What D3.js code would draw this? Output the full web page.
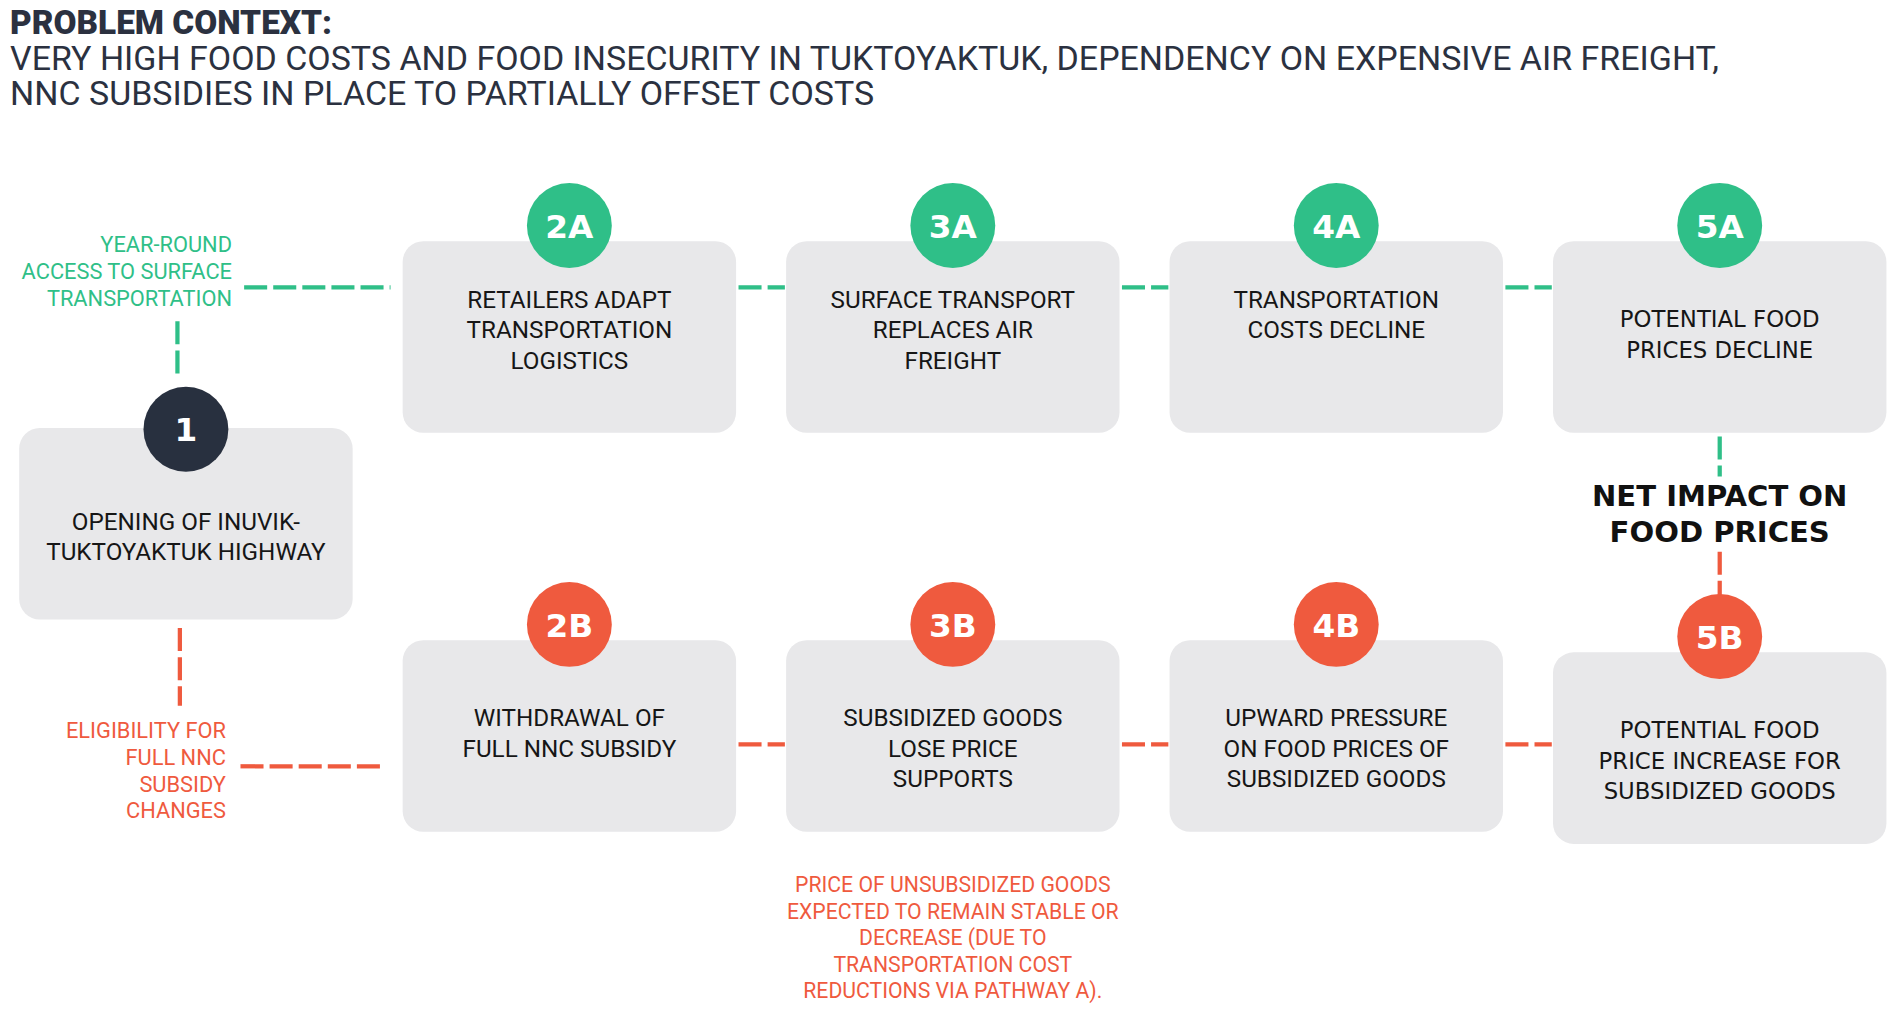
<!DOCTYPE html>
<html lang="en">
<head>
<meta charset="UTF-8">
<script src="https://d3js.org/d3.v7.min.js"></script>
<style>
body { margin: 0; background: #fff; }
.title { font-family: Roboto, sans-serif; fill: #2b3140; font-size: 28px; }
.title.head { font-weight: 900; font-size: 27.5px; }
.box { fill: #e8e8ea; }
.node-text { font-family: Roboto, sans-serif; font-size: 20px; fill: #161616; }
.node-text.wide { font-family: 'DejaVu Sans', sans-serif; font-size: 18.8px; }
.badge-text { font-family: 'DejaVu Sans', sans-serif; font-weight: bold; font-size: 27px; fill: #fff; }
.link { fill: none; stroke-width: 3.5; stroke-dasharray: 19 5; }
.side-text { font-family: Roboto, sans-serif; font-size: 18px; }
.note-text { font-family: Roboto, sans-serif; font-size: 17.5px; }
.net-text { font-family: 'DejaVu Sans', sans-serif; font-weight: bold; font-size: 24px; fill: #111; }
</style>
<title>Inuvik-Tuktoyaktuk Highway pathways</title>
</head>
<body>
<svg class="chart"></svg>
<script>
const titleLines = [
    'PROBLEM CONTEXT:',
    'VERY HIGH FOOD COSTS AND FOOD INSECURITY IN TUKTOYAKTUK, DEPENDENCY ON EXPENSIVE AIR FREIGHT,',
    'NNC SUBSIDIES IN PLACE TO PARTIALLY OFFSET COSTS'
];
const nodeIds = ['1', '2A', '3A', '4A', '5A', '2B', '3B', '4B', '5B'];
const nodeSteps = [1, 2, 3, 4, 5, 2, 3, 4, 5];
const nodePaths = ['start', 'A', 'A', 'A', 'A', 'B', 'B', 'B', 'B'];
const nodeLabels = [
    ['OPENING OF INUVIK-', 'TUKTOYAKTUK HIGHWAY'],
    ['RETAILERS ADAPT', 'TRANSPORTATION', 'LOGISTICS'],
    ['SURFACE TRANSPORT', 'REPLACES AIR', 'FREIGHT'],
    ['TRANSPORTATION', 'COSTS DECLINE'],
    ['POTENTIAL FOOD', 'PRICES DECLINE'],
    ['WITHDRAWAL OF', 'FULL NNC SUBSIDY'],
    ['SUBSIDIZED GOODS', 'LOSE PRICE', 'SUPPORTS'],
    ['UPWARD PRESSURE', 'ON FOOD PRICES OF', 'SUBSIDIZED GOODS'],
    ['POTENTIAL FOOD', 'PRICE INCREASE FOR', 'SUBSIDIZED GOODS']
];
const links = [['2A', '3A'], ['3A', '4A'], ['4A', '5A'], ['2B', '3B'], ['3B', '4B'], ['4B', '5B']];
const pathALabel = ['YEAR-ROUND', 'ACCESS TO SURFACE', 'TRANSPORTATION'];
const pathBLabel = ['ELIGIBILITY FOR', 'FULL NNC', 'SUBSIDY', 'CHANGES'];
const netLabel = ['NET IMPACT ON', 'FOOD PRICES'];
const noteLines = [
    'PRICE OF UNSUBSIDIZED GOODS',
    'EXPECTED TO REMAIN STABLE OR',
    'DECREASE (DUE TO',
    'TRANSPORTATION COST',
    'REDUCTIONS VIA PATHWAY A).'
];

// drawing units, scaled up to the window
let W = 1568, H = 833;
let boxW = 275, boxH = 158;

let svg = d3.select('.chart')
    .attr('width', 1902)
    .attr('height', 1010)
    .attr('viewBox', '0 0 ' + W + ' ' + H);

let nodes = nodeIds.map((id, i) => ({ id: id, step: nodeSteps[i], path: nodePaths[i], lines: nodeLabels[i] }));
let byId = {};
nodes.forEach(d => byId[d.id] = d);

let x = d3.scalePoint().domain([1, 2, 3, 4, 5]).range([153, 1418]);
let y = d3.scaleOrdinal().domain(['A', 'start', 'B']).range([278, 432, 607]);
let colour = d3.scaleOrdinal().domain(['start', 'A', 'B']).range(['#28303f', '#2fbf88', '#ef5a3e']);

// last box of pathway B sits a little lower
let nudge = d => d.step == 5 && d.path == 'B' ? 10 : 0;
let boxLeft = d => x(d.step) - boxW / 2;
let boxRight = d => x(d.step) + boxW / 2;
let boxTop = d => y(d.path) - boxH / 2 + nudge(d);
let boxBottom = d => boxTop(d) + boxH;
let badgeY = d => d.path == 'start' ? boxTop(d) + 1 : boxTop(d) - 13;
let textTop = d => d.path == 'start' ? 84 : (d.path == 'B' || d.step == 5 ? 71 : 55);

// title
svg.selectAll('.title')
    .data(titleLines)
    .enter().append('text')
    .attr('class', (d, i) => i == 0 ? 'title head' : 'title')
    .attr('x', 8)
    .attr('y', (d, i) => 28 + i * 29.5)
    .text(d => d);

// dashed links between steps
svg.selectAll('.link.step')
    .data(links)
    .enter().append('line')
    .attr('class', 'link step')
    .attr('stroke', d => colour(byId[d[0]].path))
    .attr('x1', d => boxRight(byId[d[0]]) + 2)
    .attr('x2', d => boxLeft(byId[d[1]]) - 1)
    .attr('y1', d => boxTop(byId[d[0]]) + (byId[d[0]].path == 'A' ? 38 : 86))
    .attr('y2', d => boxTop(byId[d[0]]) + (byId[d[0]].path == 'A' ? 38 : 86));

// boxes
let node = svg.selectAll('.node')
    .data(nodes)
    .enter().append('g')
    .attr('class', 'node');

node.append('rect')
    .attr('class', 'box')
    .attr('x', boxLeft)
    .attr('y', boxTop)
    .attr('width', boxW)
    .attr('height', boxH)
    .attr('rx', 17);

node.append('circle')
    .attr('cx', d => x(d.step))
    .attr('cy', badgeY)
    .attr('r', 35)
    .attr('fill', d => colour(d.path));

node.append('text')
    .attr('class', 'badge-text')
    .attr('x', d => x(d.step))
    .attr('y', d => badgeY(d) + 10)
    .attr('text-anchor', 'middle')
    .text(d => d.id);

node.append('text')
    .attr('class', d => d.step == 5 ? 'node-text wide' : 'node-text')
    .attr('text-anchor', 'middle')
    .selectAll('tspan')
    .data(d => d.lines.map((l, i) => ({ l: l, i: i, d: d })))
    .enter().append('tspan')
    .attr('x', t => x(t.d.step))
    .attr('y', t => boxTop(t.d) + textTop(t.d) + t.i * 25)
    .text(t => t.l);

// pathway A trigger
let start = byId['1'], a2 = byId['2A'], b2 = byId['2B'];
let aTop = boxTop(a2) + 9;
svg.append('text')
    .attr('class', 'side-text')
    .attr('fill', colour('A'))
    .attr('text-anchor', 'end')
    .selectAll('tspan')
    .data(pathALabel)
    .enter().append('tspan')
    .attr('x', x(1) + 38)
    .attr('y', (d, i) => aTop + i * 22)
    .text(d => d);
svg.append('line')
    .attr('class', 'link')
    .attr('stroke', colour('A'))
    .attr('x1', x(1) + 48).attr('x2', boxLeft(a2) - 10)
    .attr('y1', boxTop(a2) + 38).attr('y2', boxTop(a2) + 38);
svg.append('line')
    .attr('class', 'link')
    .attr('stroke', colour('A'))
    .attr('x1', x(1) - 7).attr('x2', x(1) - 7)
    .attr('y1', aTop + 2 * 22 + 13).attr('y2', badgeY(start) - 45);

// pathway B trigger
let bTop = boxBottom(start) + 98;
svg.append('text')
    .attr('class', 'side-text')
    .attr('fill', colour('B'))
    .attr('text-anchor', 'end')
    .selectAll('tspan')
    .data(pathBLabel)
    .enter().append('tspan')
    .attr('x', x(1) + 33)
    .attr('y', (d, i) => bTop + i * 22)
    .text(d => d);
svg.append('line')
    .attr('class', 'link')
    .attr('stroke', colour('B'))
    .attr('x1', x(1) - 5).attr('x2', x(1) - 5)
    .attr('y1', boxBottom(start) + 7).attr('y2', bTop - 27);
svg.append('line')
    .attr('class', 'link')
    .attr('stroke', colour('B'))
    .attr('x1', x(1) + 45).attr('x2', boxLeft(b2) - 14)
    .attr('y1', bTop + 23).attr('y2', bTop + 23);

// net impact
let a5 = byId['5A'], b5 = byId['5B'];
let netTop = boxBottom(a5) + 60;
svg.append('text')
    .attr('class', 'net-text')
    .attr('text-anchor', 'middle')
    .selectAll('tspan')
    .data(netLabel)
    .enter().append('tspan')
    .attr('x', x(5))
    .attr('y', (d, i) => netTop + i * 30)
    .text(d => d);
svg.append('line')
    .attr('class', 'link')
    .attr('stroke', colour('A'))
    .attr('x1', x(5)).attr('x2', x(5))
    .attr('y1', boxBottom(a5) + 3).attr('y2', netTop - 24);
svg.append('line')
    .attr('class', 'link')
    .attr('stroke', colour('B'))
    .attr('x1', x(5)).attr('x2', x(5))
    .attr('y1', netTop + 38).attr('y2', badgeY(b5) - 34);

// note under 3B
let b3 = byId['3B'];
svg.append('text')
    .attr('class', 'note-text')
    .attr('fill', colour('B'))
    .attr('text-anchor', 'middle')
    .selectAll('tspan')
    .data(noteLines)
    .enter().append('tspan')
    .attr('x', x(3))
    .attr('y', (d, i) => boxBottom(b3) + 50 + i * 21.75)
    .text(d => d);
</script>
</body>
</html>
